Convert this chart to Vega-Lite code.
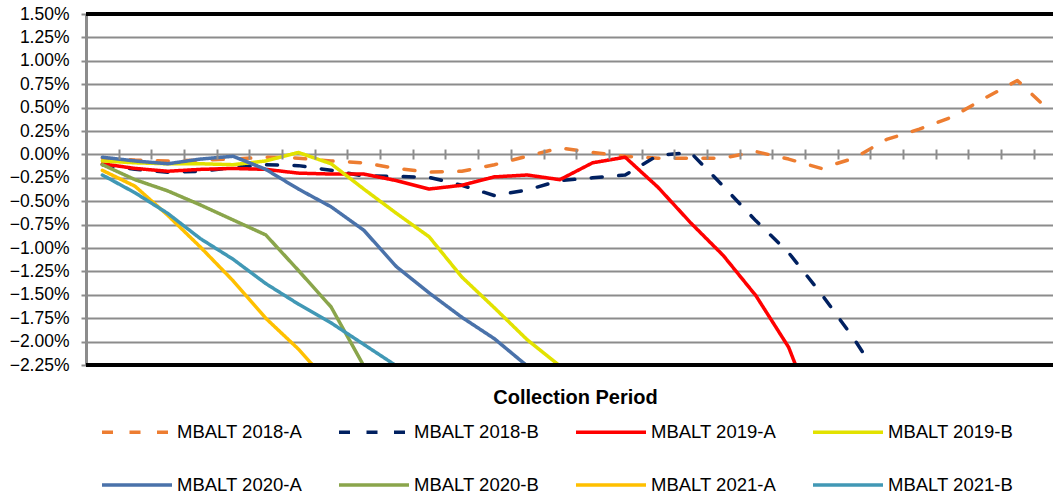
{
  "$schema": "https://vega.github.io/schema/vega-lite/v6.json",
  "width": 967,
  "height": 351,
  "autosize": {"type": "none"},
  "padding": {"left": 86, "top": 14, "right": 0, "bottom": 132},
  "background": "white",
  "config": {"view": {"stroke": null}, "font": "Liberation Sans"},
  "resolve": {"axis": {"y": "independent"}},
  "datasets": {
    "s": [
      {"series": "MBALT 2018-A", "period": 1, "value": -0.0004},
      {"series": "MBALT 2018-A", "period": 2, "value": -0.0006},
      {"series": "MBALT 2018-A", "period": 3, "value": -0.0007},
      {"series": "MBALT 2018-A", "period": 4, "value": -0.0006},
      {"series": "MBALT 2018-A", "period": 5, "value": -0.0005},
      {"series": "MBALT 2018-A", "period": 6, "value": -0.0003},
      {"series": "MBALT 2018-A", "period": 7, "value": -0.0004},
      {"series": "MBALT 2018-A", "period": 8, "value": -0.0007},
      {"series": "MBALT 2018-A", "period": 9, "value": -0.0009},
      {"series": "MBALT 2018-A", "period": 10, "value": -0.0015},
      {"series": "MBALT 2018-A", "period": 11, "value": -0.0019},
      {"series": "MBALT 2018-A", "period": 12, "value": -0.0018},
      {"series": "MBALT 2018-A", "period": 13, "value": -0.0011},
      {"series": "MBALT 2018-A", "period": 14, "value": -0.0002},
      {"series": "MBALT 2018-A", "period": 15, "value": 0.0007},
      {"series": "MBALT 2018-A", "period": 16, "value": 0.0002},
      {"series": "MBALT 2018-A", "period": 17, "value": -0.0002},
      {"series": "MBALT 2018-A", "period": 18, "value": -0.0004},
      {"series": "MBALT 2018-A", "period": 19, "value": -0.0004},
      {"series": "MBALT 2018-A", "period": 20, "value": -0.0004},
      {"series": "MBALT 2018-A", "period": 21, "value": 0.0003},
      {"series": "MBALT 2018-A", "period": 22, "value": -0.0005},
      {"series": "MBALT 2018-A", "period": 23, "value": -0.0015},
      {"series": "MBALT 2018-A", "period": 24, "value": -0.0004},
      {"series": "MBALT 2018-A", "period": 25, "value": 0.0016},
      {"series": "MBALT 2018-A", "period": 26, "value": 0.0027},
      {"series": "MBALT 2018-A", "period": 27, "value": 0.0040},
      {"series": "MBALT 2018-A", "period": 28, "value": 0.0060},
      {"series": "MBALT 2018-A", "period": 29, "value": 0.0079},
      {"series": "MBALT 2018-A", "period": 30, "value": 0.0046},
      {"series": "MBALT 2018-B", "period": 1, "value": -0.0011},
      {"series": "MBALT 2018-B", "period": 2, "value": -0.0016},
      {"series": "MBALT 2018-B", "period": 3, "value": -0.0019},
      {"series": "MBALT 2018-B", "period": 4, "value": -0.0018},
      {"series": "MBALT 2018-B", "period": 5, "value": -0.0014},
      {"series": "MBALT 2018-B", "period": 6, "value": -0.0011},
      {"series": "MBALT 2018-B", "period": 7, "value": -0.0012},
      {"series": "MBALT 2018-B", "period": 8, "value": -0.0017},
      {"series": "MBALT 2018-B", "period": 9, "value": -0.0023},
      {"series": "MBALT 2018-B", "period": 10, "value": -0.00235},
      {"series": "MBALT 2018-B", "period": 11, "value": -0.00245},
      {"series": "MBALT 2018-B", "period": 12, "value": -0.0033},
      {"series": "MBALT 2018-B", "period": 13, "value": -0.0044},
      {"series": "MBALT 2018-B", "period": 14, "value": -0.0038},
      {"series": "MBALT 2018-B", "period": 15, "value": -0.0028},
      {"series": "MBALT 2018-B", "period": 16, "value": -0.0025},
      {"series": "MBALT 2018-B", "period": 17, "value": -0.0022},
      {"series": "MBALT 2018-B", "period": 18, "value": -0.0001},
      {"series": "MBALT 2018-B", "period": 19, "value": 0.0002},
      {"series": "MBALT 2018-B", "period": 20, "value": -0.0034},
      {"series": "MBALT 2018-B", "period": 21, "value": -0.0071},
      {"series": "MBALT 2018-B", "period": 22, "value": -0.0105},
      {"series": "MBALT 2018-B", "period": 23, "value": -0.0149},
      {"series": "MBALT 2018-B", "period": 24, "value": -0.0197},
      {"series": "MBALT 2018-B", "period": 25, "value": -0.0251},
      {"series": "MBALT 2019-A", "period": 1, "value": -0.0010},
      {"series": "MBALT 2019-A", "period": 2, "value": -0.0015},
      {"series": "MBALT 2019-A", "period": 3, "value": -0.0018},
      {"series": "MBALT 2019-A", "period": 4, "value": -0.0016},
      {"series": "MBALT 2019-A", "period": 5, "value": -0.0015},
      {"series": "MBALT 2019-A", "period": 6, "value": -0.0016},
      {"series": "MBALT 2019-A", "period": 7, "value": -0.0020},
      {"series": "MBALT 2019-A", "period": 8, "value": -0.0021},
      {"series": "MBALT 2019-A", "period": 9, "value": -0.0021},
      {"series": "MBALT 2019-A", "period": 10, "value": -0.0028},
      {"series": "MBALT 2019-A", "period": 11, "value": -0.0037},
      {"series": "MBALT 2019-A", "period": 12, "value": -0.0033},
      {"series": "MBALT 2019-A", "period": 13, "value": -0.0024},
      {"series": "MBALT 2019-A", "period": 14, "value": -0.0022},
      {"series": "MBALT 2019-A", "period": 15, "value": -0.0027},
      {"series": "MBALT 2019-A", "period": 16, "value": -0.0009},
      {"series": "MBALT 2019-A", "period": 17, "value": -0.0003},
      {"series": "MBALT 2019-A", "period": 18, "value": -0.0035},
      {"series": "MBALT 2019-A", "period": 19, "value": -0.0073},
      {"series": "MBALT 2019-A", "period": 20, "value": -0.0108},
      {"series": "MBALT 2019-A", "period": 21, "value": -0.0151},
      {"series": "MBALT 2019-A", "period": 22, "value": -0.0206},
      {"series": "MBALT 2019-A", "period": 23, "value": -0.0295},
      {"series": "MBALT 2019-B", "period": 1, "value": -0.0007},
      {"series": "MBALT 2019-B", "period": 2, "value": -0.0009},
      {"series": "MBALT 2019-B", "period": 3, "value": -0.0010},
      {"series": "MBALT 2019-B", "period": 4, "value": -0.0010},
      {"series": "MBALT 2019-B", "period": 5, "value": -0.0011},
      {"series": "MBALT 2019-B", "period": 6, "value": -0.0007},
      {"series": "MBALT 2019-B", "period": 7, "value": 0.0002},
      {"series": "MBALT 2019-B", "period": 8, "value": -0.0010},
      {"series": "MBALT 2019-B", "period": 9, "value": -0.0037},
      {"series": "MBALT 2019-B", "period": 10, "value": -0.0063},
      {"series": "MBALT 2019-B", "period": 11, "value": -0.0088},
      {"series": "MBALT 2019-B", "period": 12, "value": -0.0131},
      {"series": "MBALT 2019-B", "period": 13, "value": -0.0164},
      {"series": "MBALT 2019-B", "period": 14, "value": -0.0198},
      {"series": "MBALT 2019-B", "period": 15, "value": -0.0226},
      {"series": "MBALT 2020-A", "period": 1, "value": -0.0003},
      {"series": "MBALT 2020-A", "period": 2, "value": -0.0007},
      {"series": "MBALT 2020-A", "period": 3, "value": -0.0010},
      {"series": "MBALT 2020-A", "period": 4, "value": -0.0005},
      {"series": "MBALT 2020-A", "period": 5, "value": -0.0002},
      {"series": "MBALT 2020-A", "period": 6, "value": -0.0016},
      {"series": "MBALT 2020-A", "period": 7, "value": -0.0037},
      {"series": "MBALT 2020-A", "period": 8, "value": -0.0056},
      {"series": "MBALT 2020-A", "period": 9, "value": -0.0081},
      {"series": "MBALT 2020-A", "period": 10, "value": -0.0120},
      {"series": "MBALT 2020-A", "period": 11, "value": -0.0148},
      {"series": "MBALT 2020-A", "period": 12, "value": -0.0174},
      {"series": "MBALT 2020-A", "period": 13, "value": -0.0197},
      {"series": "MBALT 2020-A", "period": 14, "value": -0.0226},
      {"series": "MBALT 2020-B", "period": 1, "value": -0.0011},
      {"series": "MBALT 2020-B", "period": 2, "value": -0.0027},
      {"series": "MBALT 2020-B", "period": 3, "value": -0.0039},
      {"series": "MBALT 2020-B", "period": 4, "value": -0.0054},
      {"series": "MBALT 2020-B", "period": 5, "value": -0.0070},
      {"series": "MBALT 2020-B", "period": 6, "value": -0.0086},
      {"series": "MBALT 2020-B", "period": 7, "value": -0.0124},
      {"series": "MBALT 2020-B", "period": 8, "value": -0.0163},
      {"series": "MBALT 2020-B", "period": 9, "value": -0.0226},
      {"series": "MBALT 2021-A", "period": 1, "value": -0.0017},
      {"series": "MBALT 2021-A", "period": 2, "value": -0.0034},
      {"series": "MBALT 2021-A", "period": 3, "value": -0.0065},
      {"series": "MBALT 2021-A", "period": 4, "value": -0.0099},
      {"series": "MBALT 2021-A", "period": 5, "value": -0.0135},
      {"series": "MBALT 2021-A", "period": 6, "value": -0.0175},
      {"series": "MBALT 2021-A", "period": 7, "value": -0.0208},
      {"series": "MBALT 2021-A", "period": 8, "value": -0.0247},
      {"series": "MBALT 2021-B", "period": 1, "value": -0.0022},
      {"series": "MBALT 2021-B", "period": 2, "value": -0.0041},
      {"series": "MBALT 2021-B", "period": 3, "value": -0.0063},
      {"series": "MBALT 2021-B", "period": 4, "value": -0.0090},
      {"series": "MBALT 2021-B", "period": 5, "value": -0.0112},
      {"series": "MBALT 2021-B", "period": 6, "value": -0.0138},
      {"series": "MBALT 2021-B", "period": 7, "value": -0.0160},
      {"series": "MBALT 2021-B", "period": 8, "value": -0.0180},
      {"series": "MBALT 2021-B", "period": 9, "value": -0.0203},
      {"series": "MBALT 2021-B", "period": 10, "value": -0.0226}
    ]
  },
  "data": {"name": "s"},
  "layer": [
    {
      "mark": {"type": "line", "clip": true, "strokeCap": "round", "strokeJoin": "round"},
      "encoding": {
        "x": {
          "field": "period",
          "type": "quantitative",
          "scale": {"domain": [0.5, 30.09], "nice": false, "zero": false},
          "axis": {
            "orient": "bottom",
            "offset": -216,
            "zindex": 1,
            "values": [1.5, 2.5, 3.5, 4.5, 5.5, 6.5, 7.5, 8.5, 9.5, 10.5, 11.5, 12.5, 13.5, 14.5, 15.5, 16.5, 17.5, 18.5, 19.5, 20.5, 21.5, 22.5, 23.5, 24.5, 25.5, 26.5, 27.5, 28.5, 29.5],
            "labels": false,
            "domain": false,
            "grid": false,
            "ticks": true,
            "tickSize": 10,
            "tickWidth": 2,
            "tickColor": "#8c8c8c",
            "tickOpacity": 1,
            "title": "Collection Period",
            "titleFont": "Liberation Sans",
            "titleFontSize": 20,
            "titleFontWeight": "bold",
            "titleColor": "black",
            "titleX": 489,
            "titleY": 254,
            "titleBaseline": "alphabetic",
            "titleAlign": "center"
          }
        },
        "y": {
          "field": "value",
          "type": "quantitative",
          "scale": {"domain": [-0.0225, 0.015], "nice": false, "zero": false},
          "axis": {
            "orient": "left",
            "values": [-0.0225, -0.0175, -0.0125, -0.0075, -0.0025, 0.0025, 0.0075, 0.0125],
            "format": ".2%",
            "labelOverlap": false,
            "labelBound": false,
            "labelFlush": false,
            "grid": true,
            "gridColor": "#8c8c8c",
            "gridWidth": 2,
            "domainColor": "#8c8c8c",
            "domainWidth": 3,
            "tickColor": "#8c8c8c",
            "tickWidth": 2,
            "tickSize": 5,
            "labelFont": "Liberation Sans",
            "labelFontSize": 17.5,
            "labelColor": "black",
            "labelPadding": 12,
            "title": null
          }
        },
        "color": {
          "field": "series",
          "type": "nominal",
          "scale": {
            "domain": ["MBALT 2018-A", "MBALT 2018-B", "MBALT 2019-A", "MBALT 2019-B", "MBALT 2020-A", "MBALT 2020-B", "MBALT 2021-A", "MBALT 2021-B"],
            "range": ["#ED7D31", "#002060", "#FF0000", "#E2E200", "#4A72AA", "#8AA54B", "#FFC000", "#4198B5"]
          },
          "legend": {
            "orient": "none", "legendX": 14, "legendY": 381, "columns": 4, "direction": "horizontal",
            "title": null, "symbolType": "stroke", "symbolSize": 4900, "symbolStrokeWidth": 4.5,
            "labelFont": "Liberation Sans", "labelFontSize": 18.5, "labelColor": "black", "labelOffset": 3,
            "columnPadding": 29, "rowPadding": 6, "padding": 0, "labelLimit": 300
          }
        },
        "strokeDash": {
          "field": "series",
          "type": "nominal",
          "scale": {
            "domain": ["MBALT 2018-A", "MBALT 2018-B", "MBALT 2019-A", "MBALT 2019-B", "MBALT 2020-A", "MBALT 2020-B", "MBALT 2021-A", "MBALT 2021-B"],
            "range": [[11, 16.5], [11, 16.5], [1, 0], [1, 0], [1, 0], [1, 0], [1, 0], [1, 0]]
          },
          "legend": {
            "orient": "none", "legendX": 14, "legendY": 381, "columns": 4, "direction": "horizontal",
            "title": null, "symbolType": "stroke", "symbolSize": 4900, "symbolStrokeWidth": 4.5,
            "labelFont": "Liberation Sans", "labelFontSize": 18.5, "labelColor": "black", "labelOffset": 3,
            "columnPadding": 29, "rowPadding": 6, "padding": 0, "labelLimit": 300
          }
        },
        "strokeWidth": {
          "field": "series",
          "type": "nominal",
          "scale": {
            "domain": ["MBALT 2018-A", "MBALT 2018-B", "MBALT 2019-A", "MBALT 2019-B", "MBALT 2020-A", "MBALT 2020-B", "MBALT 2021-A", "MBALT 2021-B"],
            "range": [3.5, 3.5, 3, 3, 3, 3, 3, 5]
          },
          "legend": {
            "orient": "none", "legendX": 14, "legendY": 381, "columns": 4, "direction": "horizontal",
            "title": null, "symbolType": "stroke", "symbolSize": 4900, "symbolStrokeWidth": 4.5,
            "labelFont": "Liberation Sans", "labelFontSize": 18.5, "labelColor": "black", "labelOffset": 3,
            "columnPadding": 29, "rowPadding": 6, "padding": 0, "labelLimit": 300
          }
        }
      }
    },
    {
      "mark": {"type": "rule", "color": "black", "strokeWidth": 2.5},
      "encoding": {
        "y": {
          "datum": 0.015,
          "type": "quantitative",
          "axis": {
            "orient": "left",
            "values": [-0.02, -0.015, -0.01, -0.005, 0, 0.005, 0.01, 0.015],
            "format": ".2%",
            "labelOverlap": false,
            "labelBound": false,
            "labelFlush": false,
            "grid": true,
            "gridColor": "#8c8c8c",
            "gridWidth": 2,
            "domain": false,
            "tickColor": "#8c8c8c",
            "tickWidth": 2,
            "tickSize": 5,
            "labelFont": "Liberation Sans",
            "labelFontSize": 17.5,
            "labelColor": "black",
            "labelPadding": 12,
            "title": null
          }
        }
      }
    },
    {
      "mark": {"type": "rule", "color": "black", "strokeWidth": 2.5},
      "encoding": {"y": {"datum": -0.0225, "type": "quantitative", "axis": null}}
    }
  ]
}
